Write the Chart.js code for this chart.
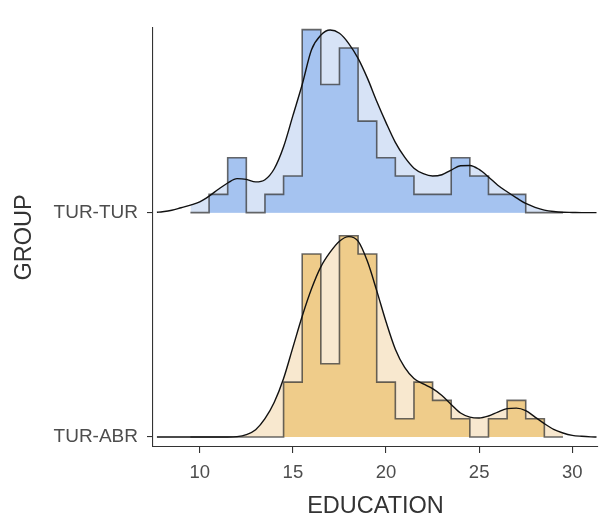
<!DOCTYPE html>
<html>
<head>
<meta charset="utf-8">
<title>Education by group</title>
<script src="https://cdn.jsdelivr.net/npm/chart.js@4"></script>
<style>
  html, body { margin: 0; padding: 0; background: #fff; }
  #wrap { width: 599px; height: 518px; }
</style>
</head>
<body>
<div id="wrap"><canvas id="ridgeChart"></canvas></div>
<script>
/* ================= DATA ================= */
const groups = ["TUR-ABR", "TUR-TUR"];
const xTicks = [10, 15, 20, 25, 30];

// histogram bins, one per year of education (edges on the .5)
const binCenters = [10, 11, 12, 13, 14, 15, 16, 17, 18, 19, 20, 21, 22, 23, 24, 25, 26, 27, 28, 29];
const binsTurTur = [0, 1, 3, 0, 1, 2, 10, 7, 9, 5, 3, 2, 1, 1, 3, 2, 1, 1, 0, 0];
const binsTurAbr = [0, 0, 0, 0, 0, 3, 10, 4, 11, 10, 3, 1, 3, 2, 1, 0, 1, 2, 1, 0];

// smoothed density, in the same units as the bin counts
const densityX = [7.7, 8, 8.5, 9, 9.5, 10, 10.5, 11, 11.5, 12, 12.5, 13, 13.5, 14, 14.5, 15, 15.5,
  16, 16.5, 17, 17.5, 18, 18.5, 19, 19.5, 20, 20.5, 21, 21.5, 22, 22.5, 23, 23.5, 24, 24.5, 25,
  25.5, 26, 26.5, 27, 27.5, 28, 28.5, 29, 29.5, 30, 30.5, 31, 31.3];
const densityTurTur = [0.02, 0.05, 0.13, 0.27, 0.41, 0.59, 0.9, 1.28, 1.62, 1.86, 1.82, 1.68, 1.8,
  2.4, 3.6, 5.3, 7.0, 8.9, 9.7, 9.98, 9.8, 9.24, 8.43, 7.35, 6.09, 4.92, 3.84, 3.03, 2.43, 2.13,
  2.0, 2.07, 2.33, 2.56, 2.58, 2.36, 1.95, 1.5, 1.14, 0.81, 0.5, 0.29, 0.14, 0.06, 0.02, 0.01, 0, 0, 0];
const densityTurAbr = [0, 0, 0, 0, 0, 0, 0, 0, 0, 0.02, 0.13, 0.4, 1.0, 1.9, 3.2, 4.9, 6.6, 8.1,
  9.3, 10.1, 10.7, 10.95, 10.7, 9.6, 8.0, 6.3, 4.8, 3.8, 3.2, 2.9, 2.64, 2.27, 1.78, 1.31, 1.09,
  1.04, 1.15, 1.36, 1.55, 1.58, 1.44, 1.09, 0.73, 0.42, 0.22, 0.09, 0.04, 0.01, 0];

/* ================= STYLE ================= */
const ridgeGap = 12.26;   // vertical distance between ridges, in count units
const colors = {
  "TUR-TUR": { light: "#d7e3f6", dark: "#a5c3f0" },
  "TUR-ABR": { light: "#f8e8cf", dark: "#efcc8a" }
};
const FONT = "'Liberation Sans', Arial, sans-serif";

/* ================= BUILD DATASETS ================= */
function ridgeDatasets(name, bins, density, idx) {
  const base = idx * ridgeGap;
  const lo = binCenters[0] - 0.5;
  const hi = binCenters[binCenters.length - 1] + 0.5;

  // each point opens a bin; "before" keeps its height until the next edge
  const steps = binCenters.map((c, i) => ({ x: c - 0.5, y: base + bins[i] }));
  steps.push({ x: hi, y: base });

  const curve = densityX.map((x, i) => ({ x: x, y: base + density[i] }));
  const curveInBins = curve.filter(p => p.x >= lo && p.x <= hi);

  return [
    {
      label: name + " density",
      data: curve,
      borderColor: "#111",
      borderWidth: 1.4,
      pointRadius: 0,
      fill: false,
      cubicInterpolationMode: "monotone",
      order: 0
    },
    {
      label: name + " histogram",
      data: steps,
      stepped: "before",
      borderColor: "rgba(55,55,55,0.75)",
      borderWidth: 1.6,
      backgroundColor: colors[name].dark,
      pointRadius: 0,
      fill: { value: base },
      order: 1
    },
    {
      label: name + " area",
      data: curveInBins,
      borderWidth: 0,
      borderColor: "rgba(0,0,0,0)",
      backgroundColor: colors[name].light,
      pointRadius: 0,
      fill: { value: base },
      cubicInterpolationMode: "monotone",
      order: 2
    }
  ];
}

const datasets = [
  ...ridgeDatasets("TUR-TUR", binsTurTur, densityTurTur, 1),
  ...ridgeDatasets("TUR-ABR", binsTurAbr, densityTurAbr, 0)
];

/* ================= CHART ================= */
new Chart(document.getElementById("ridgeChart"), {
  type: "line",
  data: { datasets },
  options: {
    responsive: true,
    maintainAspectRatio: false,
    animation: false,
    devicePixelRatio: 1,
    layout: { padding: { left: 0, top: 28, right: 1, bottom: 0 } },
    plugins: {
      legend: { display: false },
      tooltip: { enabled: false }
    },
    elements: { line: { tension: 0 } },
    scales: {
      x: {
        type: "linear",
        min: 7.49,
        max: 31.38,
        afterBuildTicks: s => { s.ticks = xTicks.map(v => ({ value: v })); },
        afterFit: s => { s.height = 71; },
        border: { display: true, color: "#333", width: 1.1 },
        grid: { display: true, drawOnChartArea: false, tickLength: 6, color: "#333", lineWidth: 1.1 },
        ticks: {
          color: "#4d4d4d",
          padding: 9,
          font: { family: FONT, size: 18.5 },
          maxRotation: 0
        },
        title: {
          display: true,
          text: "EDUCATION",
          color: "#333",
          font: { family: FONT, size: 23.5, lineHeight: 1 },
          padding: { top: 0, bottom: 0 }
        }
      },
      y: {
        type: "linear",
        min: -0.546,
        max: 22.35,
        afterBuildTicks: s => { s.ticks = groups.map((g, i) => ({ value: i * ridgeGap })); },
        afterFit: s => { s.width = 153; },
        border: { display: true, color: "#333", width: 1.1 },
        grid: { display: true, drawOnChartArea: false, tickLength: 6, color: "#333", lineWidth: 1.1 },
        ticks: {
          color: "#4d4d4d",
          padding: 9,
          font: { family: FONT, size: 19 },
          callback: (v, i) => groups[i]
        },
        title: {
          display: true,
          text: "GROUP",
          color: "#333",
          font: { family: FONT, size: 23.5, lineHeight: 1 },
          padding: { top: 13, bottom: 0 }
        }
      }
    }
  }
});
</script>
</body>
</html>
